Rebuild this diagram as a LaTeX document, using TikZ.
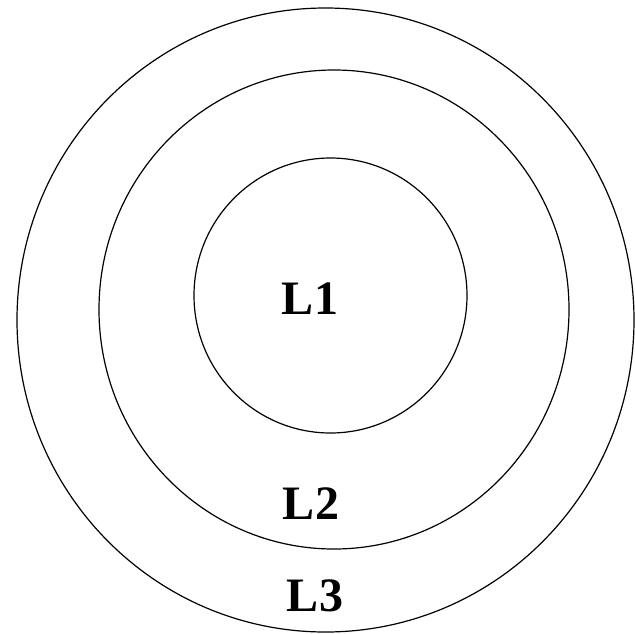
\documentclass[tikz,border=0pt]{standalone}
\usepackage{fontspec}
\setmainfont{Liberation Serif}
\tikzset{nhan/.style={inner sep=0pt, font=\bfseries\fontsize{48}{48}\selectfont}}
\begin{document}
\begin{tikzpicture}[x=1pt, y=-1pt, line width=1.2pt]
    % Khung
    \useasboundingbox (0,0) rectangle (635,633);

    % Ba đường tròn
    \draw (325.5,320) ellipse (308.5 and 312);
    \draw (334,309.5) ellipse (235 and 239.5);
    \draw (330.5,295.5) ellipse (136.5 and 137.5);

    % Nhãn
    \node[nhan] (l1) at (310,299) {L1};
    \node[nhan] (l2) at (311,504) {L2};
    \node[nhan] (l3) at (315,596) {L3};
\end{tikzpicture}
\end{document}
